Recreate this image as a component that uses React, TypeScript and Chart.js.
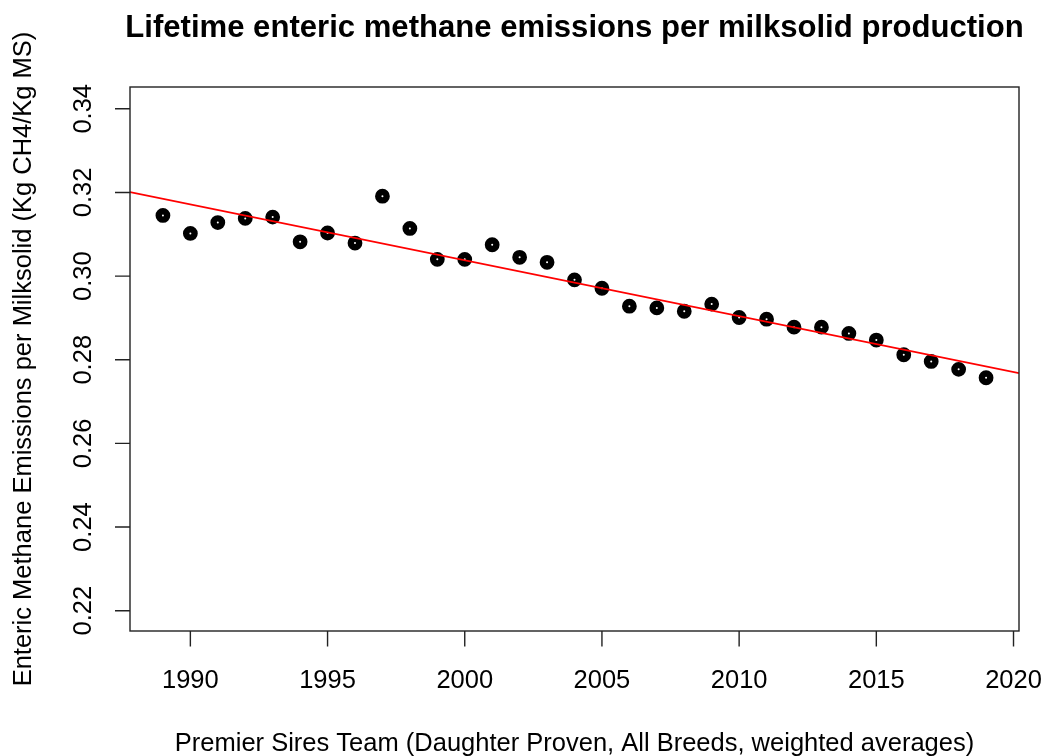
import React, { useEffect, useRef } from "react";
import { Chart, registerables } from "chart.js";

Chart.register(...registerables);

const years = [
  1989, 1990, 1991, 1992, 1993, 1994, 1995, 1996, 1997, 1998, 1999, 2000, 2001,
  2002, 2003, 2004, 2005, 2006, 2007, 2008, 2009, 2010, 2011, 2012, 2013, 2014,
  2015, 2016, 2017, 2018, 2019,
];
const emissions = [
  0.3145, 0.3102, 0.3128, 0.3138, 0.3141, 0.3082, 0.3103, 0.3079, 0.3191,
  0.3114, 0.304, 0.304, 0.3075, 0.3045, 0.3033, 0.2991, 0.2971, 0.2928, 0.2924,
  0.2916, 0.2933, 0.2901, 0.2897, 0.2878, 0.2878, 0.2863, 0.2847, 0.2812,
  0.2796, 0.2777, 0.2757,
];
const trendYears = [1987.8, 2020.2];
const trendValues = [0.3201, 0.2768];

const xTicks = [1990, 1995, 2000, 2005, 2010, 2015, 2020];
const yTicks = [0.22, 0.24, 0.26, 0.28, 0.3, 0.32, 0.34];
const yTickLabels = ["0.22", "0.24", "0.26", "0.28", "0.30", "0.32", "0.34"];

const xRange = [1987.8, 2020.2];
const yRange = [0.21515, 0.34521];

const titleText = "Lifetime enteric methane emissions per milksolid production";
const xTitle = "Premier Sires Team (Daughter Proven, All Breeds, weighted averages)";
const yTitle = "Enteric Methane Emissions per Milksolid (Kg CH4/Kg MS)";

const FONT = '"Liberation Sans", Arial, sans-serif';

const rBasePlot = {
  id: "rBasePlot",
  afterDraw(chart: any) {
    const { ctx, chartArea } = chart;
    const xs = chart.scales.x;
    const ys = chart.scales.y;
    const { left, right, top, bottom } = chartArea;
    const cx = (left + right) / 2;
    const cy = (top + bottom) / 2;
    ctx.save();
    // box
    ctx.strokeStyle = "#222";
    ctx.lineWidth = 1.4;
    ctx.strokeRect(left, top, right - left, bottom - top);
    // ticks
    ctx.beginPath();
    xTicks.forEach((t) => {
      const px = xs.getPixelForValue(t);
      ctx.moveTo(px, bottom);
      ctx.lineTo(px, bottom + 15.5);
    });
    yTicks.forEach((t) => {
      const py = ys.getPixelForValue(t);
      ctx.moveTo(left, py);
      ctx.lineTo(left - 15, py);
    });
    ctx.stroke();

    ctx.fillStyle = "#000";
    ctx.font = `25.5px ${FONT}`;
    ctx.textAlign = "center";
    ctx.textBaseline = "alphabetic";
    xTicks.forEach((t) => {
      ctx.fillText(String(t), xs.getPixelForValue(t), 688);
    });
    ctx.fillText(xTitle, cx, 751);

    yTicks.forEach((t, i) => {
      ctx.save();
      ctx.translate(91, ys.getPixelForValue(t));
      ctx.rotate(-Math.PI / 2);
      ctx.fillText(yTickLabels[i], 0, 0);
      ctx.restore();
    });
    ctx.save();
    ctx.translate(31, cy);
    ctx.rotate(-Math.PI / 2);
    ctx.fillText(yTitle, 0, 0);
    ctx.restore();

    ctx.font = `bold 31.1px ${FONT}`;
    ctx.fillText(titleText, cx, 36.5);
    ctx.restore();
  },
};

export default function App() {
  const ref = useRef<HTMLCanvasElement | null>(null);
  useEffect(() => {
    document.body.style.margin = "0";
    const canvas = ref.current;
    if (!canvas) return;
    const chart = new Chart(canvas, {
      type: "scatter",
      data: {
        datasets: [
          {
            label: "trend",
            data: trendYears.map((x, i) => ({ x, y: trendValues[i] })),
            showLine: true,
            borderColor: "#ff0000",
            borderWidth: 1.7,
            pointRadius: 0,
            pointHoverRadius: 0,
            fill: false,
            order: 0,
          },
          {
            label: "emissions",
            data: years.map((x, i) => ({ x, y: emissions[i] })),
            pointRadius: 4.2,
            pointHoverRadius: 4.2,
            borderWidth: 6.4,
            borderColor: "#000",
            backgroundColor: "#fff",
            order: 1,
          },
        ],
      },
      options: {
        responsive: false,
        animation: false,
        devicePixelRatio: 1,
        layout: { padding: { left: 130, top: 87, right: 27, bottom: 125 } },
        plugins: {
          legend: { display: false },
          tooltip: { enabled: false },
          title: { display: false },
        },
        scales: {
          x: { type: "linear", display: false, min: xRange[0], max: xRange[1] },
          y: { type: "linear", display: false, min: yRange[0], max: yRange[1] },
        },
      },
      plugins: [rBasePlot],
    });
    return () => chart.destroy();
  }, []);
  return (
    <div style={{ position: "absolute", left: 0, top: 0, width: 1046, height: 756, background: "#fff" }}>
      <canvas ref={ref} width={1046} height={756} style={{ display: "block" }} />
    </div>
  );
}
